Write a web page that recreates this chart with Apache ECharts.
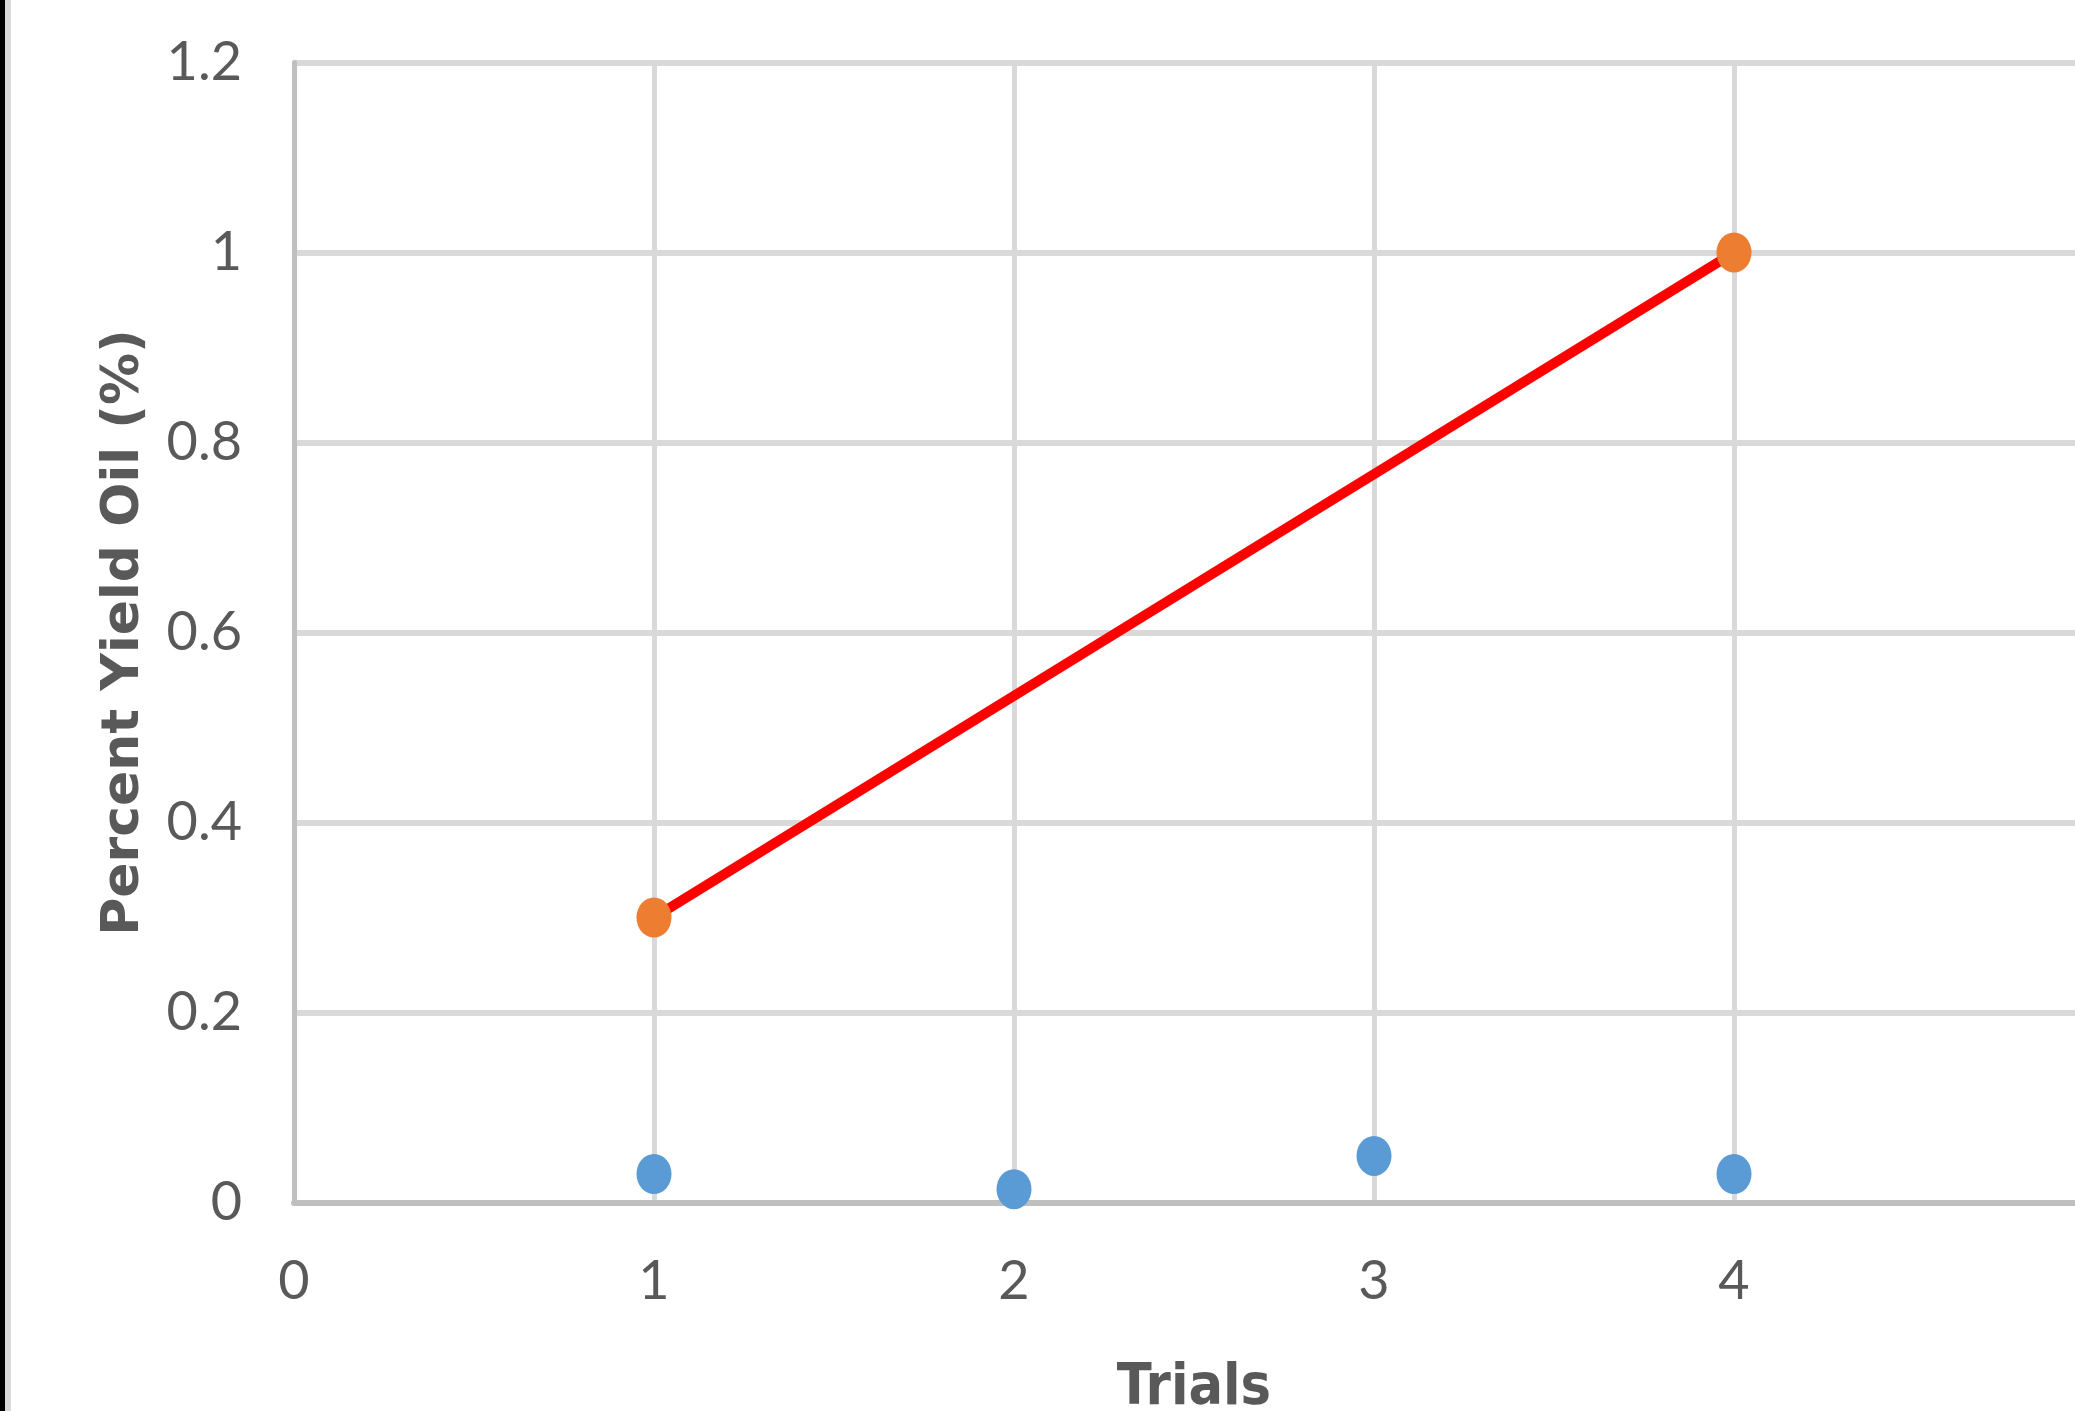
<!DOCTYPE html>
<html>
<head>
<meta charset="utf-8">
<script src="https://cdn.jsdelivr.net/npm/echarts@6/dist/echarts.min.js"></script>
<style>
  html, body { margin: 0; padding: 0; background: #ffffff; overflow: hidden; }
  #chart { width: 2075px; height: 1411px; }
</style>
</head>
<body>
<div id="chart"></div>
<script>
// Trial numbers and measured oil yield per trial
const trialsBlue = [1, 2, 3, 4];
const yieldBlue = [0.03, 0.014, 0.049, 0.03];

// Trials with the larger yields and the linear trend between them
const trialsOrange = [1, 4];
const yieldOrange = [0.3, 1.0];

const yTicks = { min: 0, max: 1.2, interval: 0.2 };
const xTicks = { min: 0, max: 5, interval: 1 };

const ellipse = 'path://M0 20A17.5 20 0 1 1 35 20A17.5 20 0 1 1 0 20Z';
const tickFont = { fontFamily: 'Lato, "Open Sans", sans-serif', fontWeight: 'normal', fontSize: 54, color: '#595959' };

const chart = echarts.init(document.getElementById('chart'));
chart.setOption({
  backgroundColor: '#ffffff',
  animation: false,
  graphic: [
    { type: 'rect', left: 0, top: 0, shape: { width: 5, height: 1411 }, style: { fill: '#000000' }, z: 100 },
    { type: 'rect', left: 5, top: 0, shape: { width: 6, height: 1411 }, style: { fill: '#d9d9d9' }, z: 100 }
  ],
  grid: { left: 294, right: -19, top: 62.5, bottom: 208.5, containLabel: false, outerBoundsMode: 'none' },
  xAxis: {
    type: 'value',
    min: xTicks.min, max: xTicks.max, interval: xTicks.interval,
    name: 'Trials',
    nameLocation: 'middle',
    nameGap: 158,
    nameTextStyle: { fontFamily: '"Liberation Sans Narrow", "DejaVu Sans Condensed", "Liberation Sans", sans-serif', fontWeight: 'bold', fontSize: 57, color: '#595959' },
    axisLine: { show: true, onZero: false, lineStyle: { color: '#bfbfbf', width: 6 } },
    axisTick: { show: false },
    axisLabel: Object.assign({ margin: 52, showMaxLabel: false }, tickFont),
    splitLine: { show: true, lineStyle: { color: '#d9d9d9', width: 5 } }
  },
  yAxis: {
    type: 'value',
    min: yTicks.min, max: yTicks.max, interval: yTicks.interval,
    name: 'Percent Yield Oil (%)',
    nameLocation: 'middle',
    nameGap: 144,
    nameRotate: 90,
    nameTextStyle: { fontFamily: '"DejaVu Sans", sans-serif', fontWeight: 'bold', fontSize: 52, color: '#595959' },
    axisLine: { show: true, lineStyle: { color: '#bfbfbf', width: 5 } },
    axisTick: { show: false },
    axisLabel: Object.assign({ margin: 52 }, tickFont),
    splitLine: { show: true, lineStyle: { color: '#d9d9d9', width: 6 } }
  },
  series: [
    {
      name: 'Trend',
      type: 'line',
      data: trialsOrange.map((x, i) => [x, yieldOrange[i]]),
      showSymbol: false,
      lineStyle: { color: '#ff0000', width: 10 },
      z: 3
    },
    {
      name: 'Yield (high)',
      type: 'scatter',
      data: trialsOrange.map((x, i) => [x, yieldOrange[i]]),
      symbol: ellipse,
      symbolSize: [35, 40],
      itemStyle: { color: '#ed7d31', opacity: 1 },
      z: 4
    },
    {
      name: 'Yield',
      type: 'scatter',
      data: trialsBlue.map((x, i) => [x, yieldBlue[i]]),
      symbol: ellipse,
      symbolSize: [35, 40],
      itemStyle: { color: '#5b9bd5', opacity: 1 },
      z: 4
    }
  ]
});
</script>
</body>
</html>
